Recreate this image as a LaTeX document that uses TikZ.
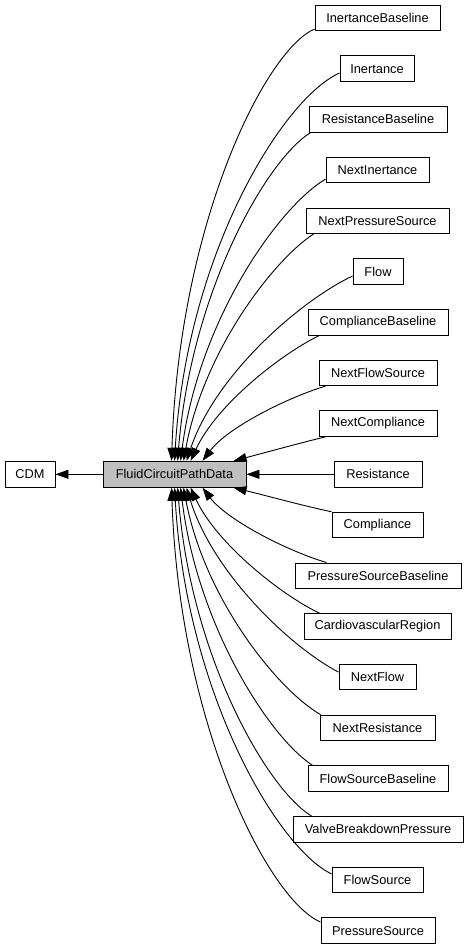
\documentclass[tikz,border=0pt]{standalone}
\usepackage{fontspec}
\setmainfont{Liberation Sans}
\usetikzlibrary{arrows.meta,calc}
\begin{document}
\begin{tikzpicture}[x=1pt,y=-1pt,
  box/.style={draw=black,line width=0.9pt,fill=white,minimum height=25.5pt,inner sep=0pt,font=\fontsize{12.8}{15}\selectfont},
  edge/.style={line width=0.9pt,-{Triangle[length=13pt,width=9pt]}}]
\useasboundingbox (0,0) rectangle (468,949);
% central and left
\node[box,minimum width=143pt,minimum height=26pt,fill={rgb,255:red,191;green,191;blue,191}] (fc) at (174.5,474.3) {FluidCircuitPathData};
\node[box,minimum width=50pt,minimum height=26pt] (cdm) at (30,474.3) {CDM};
% right column
\node[box,minimum width=125pt] (ib)  at (377.5,18)    {InertanceBaseline};
\node[box,minimum width=74pt]  (in)  at (377,68.7)    {Inertance};
\node[box,minimum width=138pt] (rb)  at (378,119.4)   {ResistanceBaseline};
\node[box,minimum width=103pt] (ni)  at (377.5,170.1) {NextInertance};
\node[box,minimum width=143pt] (nps) at (377.5,220.8) {NextPressureSource};
\node[box,minimum width=50pt]  (fl)  at (378,271.5)   {Flow};
\node[box,minimum width=140pt] (cb)  at (378,322.2)   {ComplianceBaseline};
\node[box,minimum width=118pt] (nfs) at (378,372.9)   {NextFlowSource};
\node[box,minimum width=118pt] (nc)  at (378,423.6)   {NextCompliance};
\node[box,minimum width=88pt]  (res) at (378,474.3)   {Resistance};
\node[box,minimum width=91pt]  (co)  at (377.5,525)   {Compliance};
\node[box,minimum width=166pt] (psb) at (378,575.7)   {PressureSourceBaseline};
\node[box,minimum width=147pt] (cr)  at (377.5,626.4) {CardiovascularRegion};
\node[box,minimum width=77pt]  (nf)  at (377.5,677.1) {NextFlow};
\node[box,minimum width=115pt] (nr)  at (377.5,727.8) {NextResistance};
\node[box,minimum width=140pt] (fsb) at (378,778.5)   {FlowSourceBaseline};
\node[box,minimum width=170pt] (vbp) at (378,829.2)   {ValveBreakdownPressure};
\node[box,minimum width=91pt]  (fs)  at (377.5,879.9) {FlowSource};
\node[box,minimum width=114pt] (ps)  at (378,930.6)   {PressureSource};
% edges
\draw[edge] (fc.west) -- (cdm.east);
\draw[edge] ($(ib.west)+(0,11)$) .. controls (265,50.6) and (179,223.4) .. ($(fc.north west)+(69,0)$);
\draw[edge] ($(in.west)+(0,4.3)$) .. controls (283.4,97.8) and (186.7,253) .. ($(fc.north west)+(72,0)$);
\draw[edge] ($(rb.south west)+(2,0)$) .. controls (266.7,159.6) and (191.3,291.2) .. ($(fc.north west)+(75,0)$);
\draw[edge] ($(ni.west)+(0,9)$) .. controls (278.7,206.9) and (198.8,319.7) .. ($(fc.north west)+(78,0)$);
\draw[edge] ($(nps.south west)+(8,0)$) .. controls (272.8,260.6) and (203.5,351.4) .. ($(fc.north west)+(81,0)$);
\draw[edge] ($(fl.west)+(0,4.5)$) .. controls (301.5,300) and (215.4,374) .. ($(fc.north west)+(84,0)$);
\draw[edge] ($(cb.south west)+(12,0)$) .. controls (281.3,353.9) and (216.8,404.3) .. ($(fc.north west)+(88,0)$);
\draw[edge] ($(nfs.south west)+(7,0)$) .. controls (289,397) and (228,427) .. ($(fc.north west)+(100,0)$);
\draw[edge] ($(nc.south west)+(7,0)$) .. controls (300,443) and (260,454) .. ($(fc.north west)+(131,0)$);
\draw[edge] (res.west) -- (fc.east);
\draw[edge] (co.north west) .. controls (300,505) and (260,494) .. ($(fc.south west)+(131,0)$);
\draw[edge] ($(psb.north west)+(32,0)$) .. controls (290,552) and (228,521) .. ($(fc.south west)+(100,0)$);
\draw[edge] ($(cr.north west)+(16,0)$) .. controls (281.3,595) and (216.8,544) .. ($(fc.south west)+(88,0)$);
\draw[edge] ($(nf.west)+(0,-5)$) .. controls (291.9,648) and (213,574) .. ($(fc.south west)+(84,0)$);
\draw[edge] ($(nr.north west)+(1,0)$) .. controls (276.9,689.4) and (204.3,597.8) .. ($(fc.south west)+(81,0)$);
\draw[edge] ($(fsb.north west)+(5,0)$) .. controls (270.1,738.1) and (197.5,626.5) .. ($(fc.south west)+(78,0)$);
\draw[edge] ($(vbp.north west)+(19,0)$) .. controls (267.4,789.6) and (191.4,657.6) .. ($(fc.south west)+(75,0)$);
\draw[edge] ($(fs.west)+(0,-6)$) .. controls (278.1,848.8) and (186.3,694) .. ($(fc.south west)+(72,0)$);
\draw[edge] ($(ps.west)+(0,-8.6)$) .. controls (268.8,900.2) and (179.5,726) .. ($(fc.south west)+(69,0)$);
\end{tikzpicture}
\end{document}
